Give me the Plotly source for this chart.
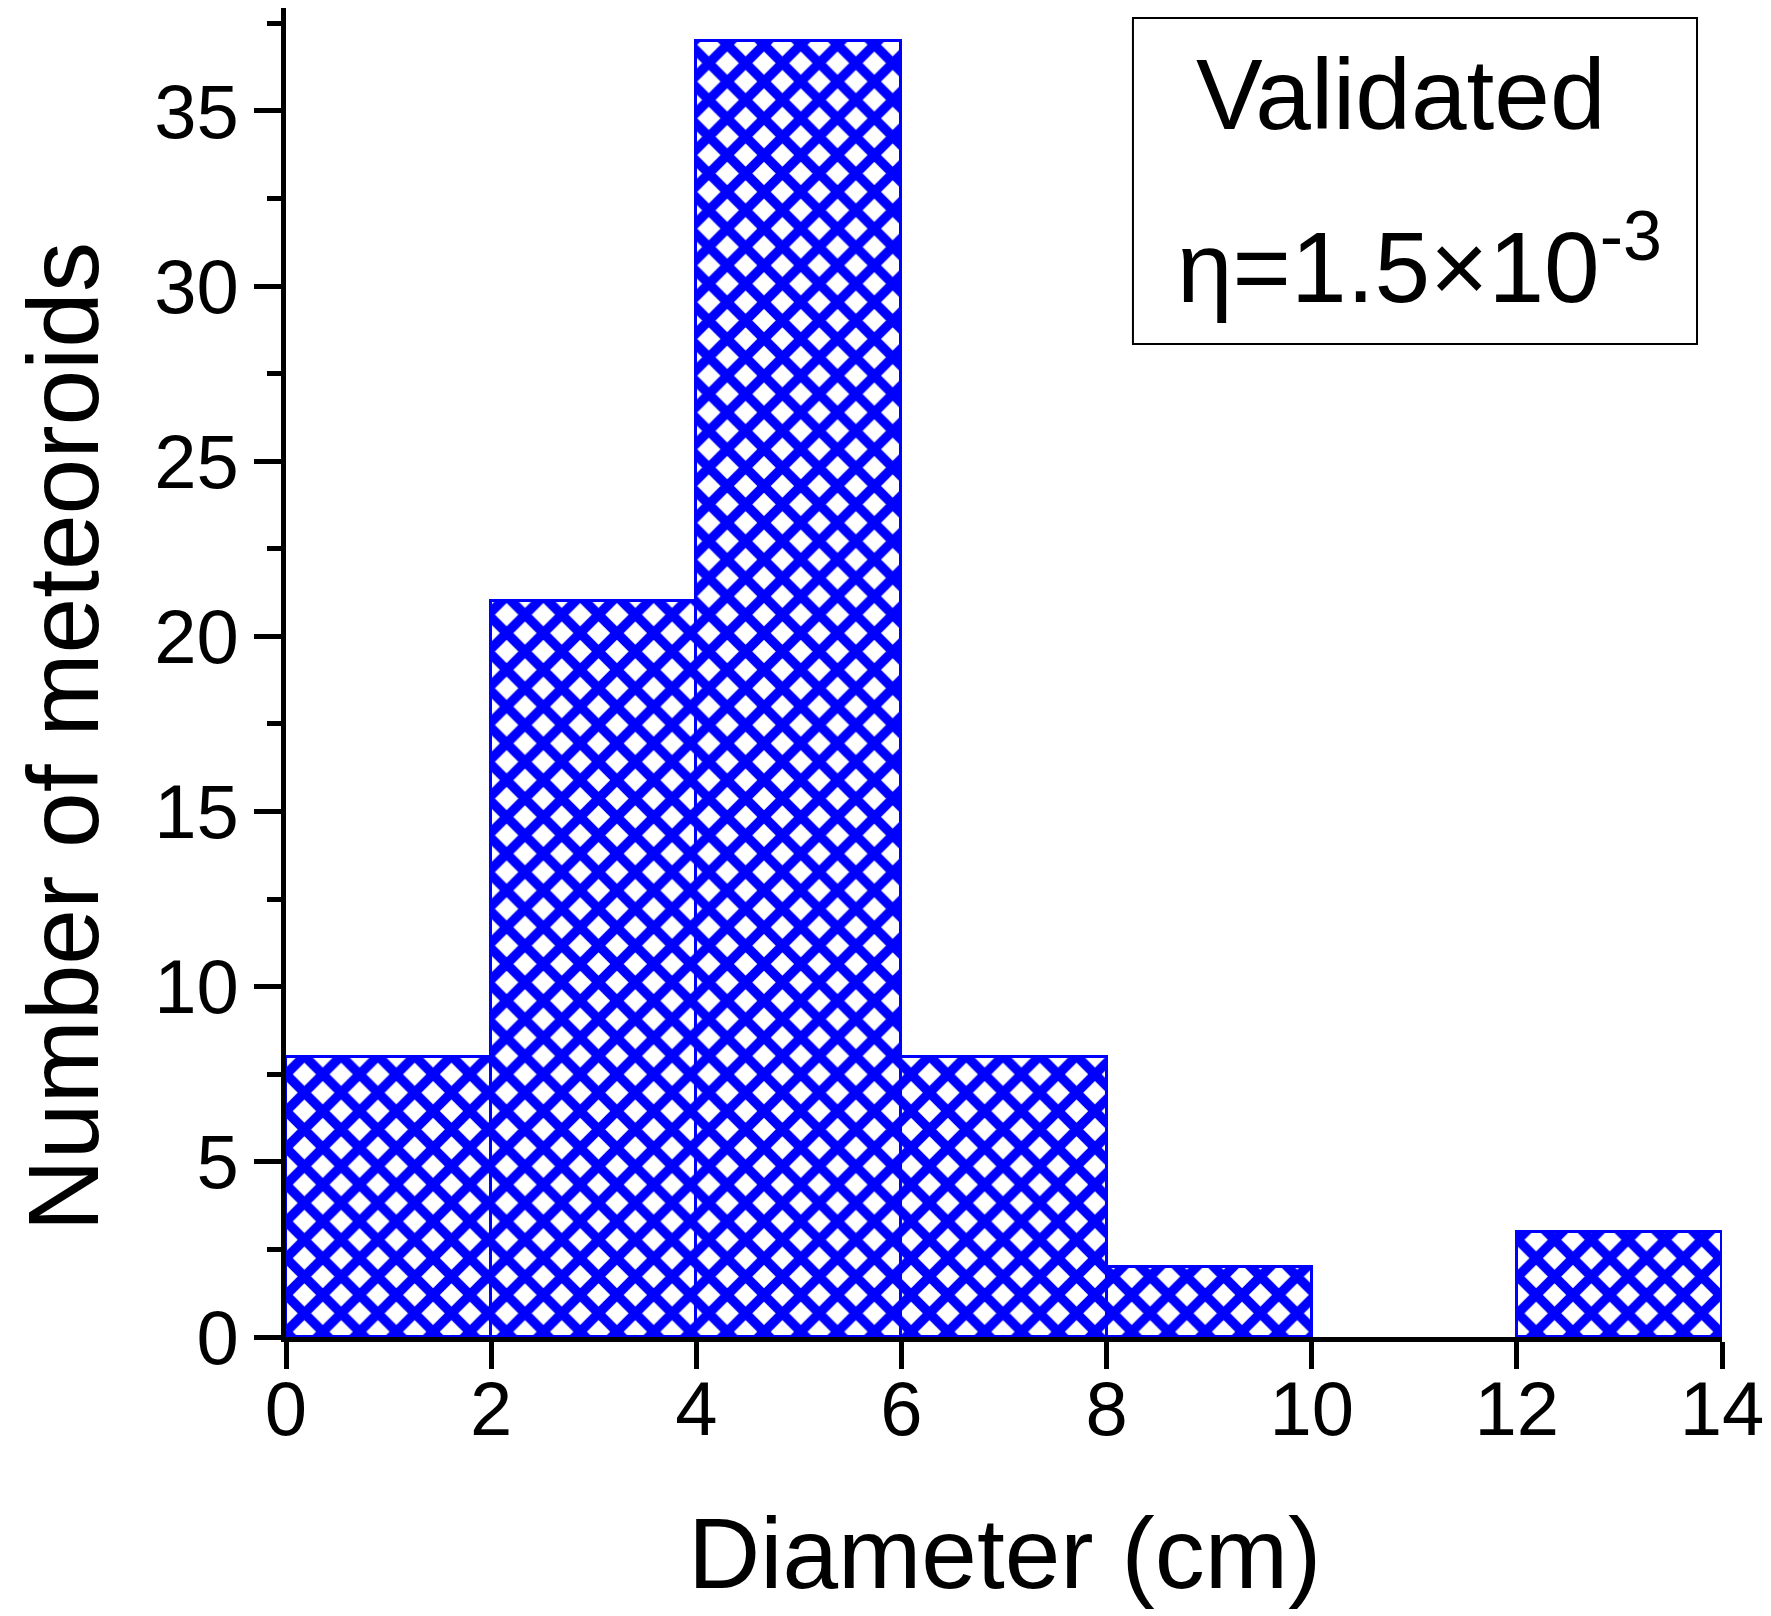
import plotly.graph_objects as go

# histogram bins (cm) and counts
bin_centers = [1, 3, 5, 7, 9, 11, 13]
bin_width = [2, 2, 2, 2, 2, 2, 2]
counts = [8, 21, 37, 8, 2, 0, 3]

x_ticks = [0, 2, 4, 6, 8, 10, 12, 14]
y_ticks = [0, 5, 10, 15, 20, 25, 30, 35]

FONT = "Liberation Sans, Arial, sans-serif"
BLUE = "#0000FF"

# no outline on empty bins (Origin draws nothing there)
outline = [3 if c > 0 else 0 for c in counts]

fig = go.Figure()
fig.add_trace(go.Bar(
    x=bin_centers,
    y=counts,
    width=bin_width,
    marker=dict(
        color="white",
        line=dict(color=BLUE, width=outline),
        pattern=dict(shape="x", fgcolor=BLUE, bgcolor="white", fgopacity=1,
                     size=26, solidity=0.6),
    ),
    showlegend=False,
))

# page body has an 8px margin, so the figure is a bit smaller than the window
fig.update_layout(
    width=1763,
    height=1608,
    margin=dict(l=278, r=49, t=0, b=279),
    paper_bgcolor="white",
    plot_bgcolor="white",
    bargap=0,
    font=dict(family=FONT, color="black"),
)

fig.update_xaxes(
    range=[0, 14],
    tickvals=x_ticks,
    ticks="outside", ticklen=27, tickwidth=5, tickcolor="black",
    ticklabelstandoff=-25,
    showline=True, linecolor="black", linewidth=5,
    showgrid=False, zeroline=False,
    tickfont=dict(size=76, family=FONT),
)
fig.update_yaxes(
    range=[0, 37.94],
    tickvals=y_ticks,
    ticks="outside", ticklen=27, tickwidth=5, tickcolor="black",
    minor=dict(dtick=2.5, ticks="outside", ticklen=14, tickwidth=5, tickcolor="black", showgrid=False),
    showline=True, linecolor="black", linewidth=5,
    showgrid=False, zeroline=False,
    tickfont=dict(size=76, family=FONT),
)

# axis titles
fig.add_annotation(text="Diameter (cm)", xref="paper", yref="paper", x=0.5, y=-0.1625,
                   xanchor="center", yanchor="middle", showarrow=False,
                   font=dict(size=100, family=FONT))
fig.add_annotation(text="Number of meteoroids", xref="paper", yref="paper", x=-0.155, y=0.4515,
                   xanchor="center", yanchor="middle", textangle=-90, showarrow=False,
                   font=dict(size=100, family=FONT))

# label box
fig.add_shape(type="rect", xref="paper", yref="paper", x0=0.5898, x1=0.9826, y0=0.7472, y1=0.9925,
              line=dict(color="black", width=2), fillcolor="white", layer="above")
fig.add_annotation(text="Validated", xref="paper", yref="paper", x=0.7766, y=0.9353,
                   xanchor="center", yanchor="middle", showarrow=False,
                   font=dict(size=100, family=FONT))
fig.add_annotation(text="η=1.5×10<sup>-3</sup>", xref="paper", yref="paper", x=0.7895, y=0.8104,
                   xanchor="center", yanchor="middle", showarrow=False,
                   font=dict(size=100, family=FONT))

fig.write_html("out.html")
